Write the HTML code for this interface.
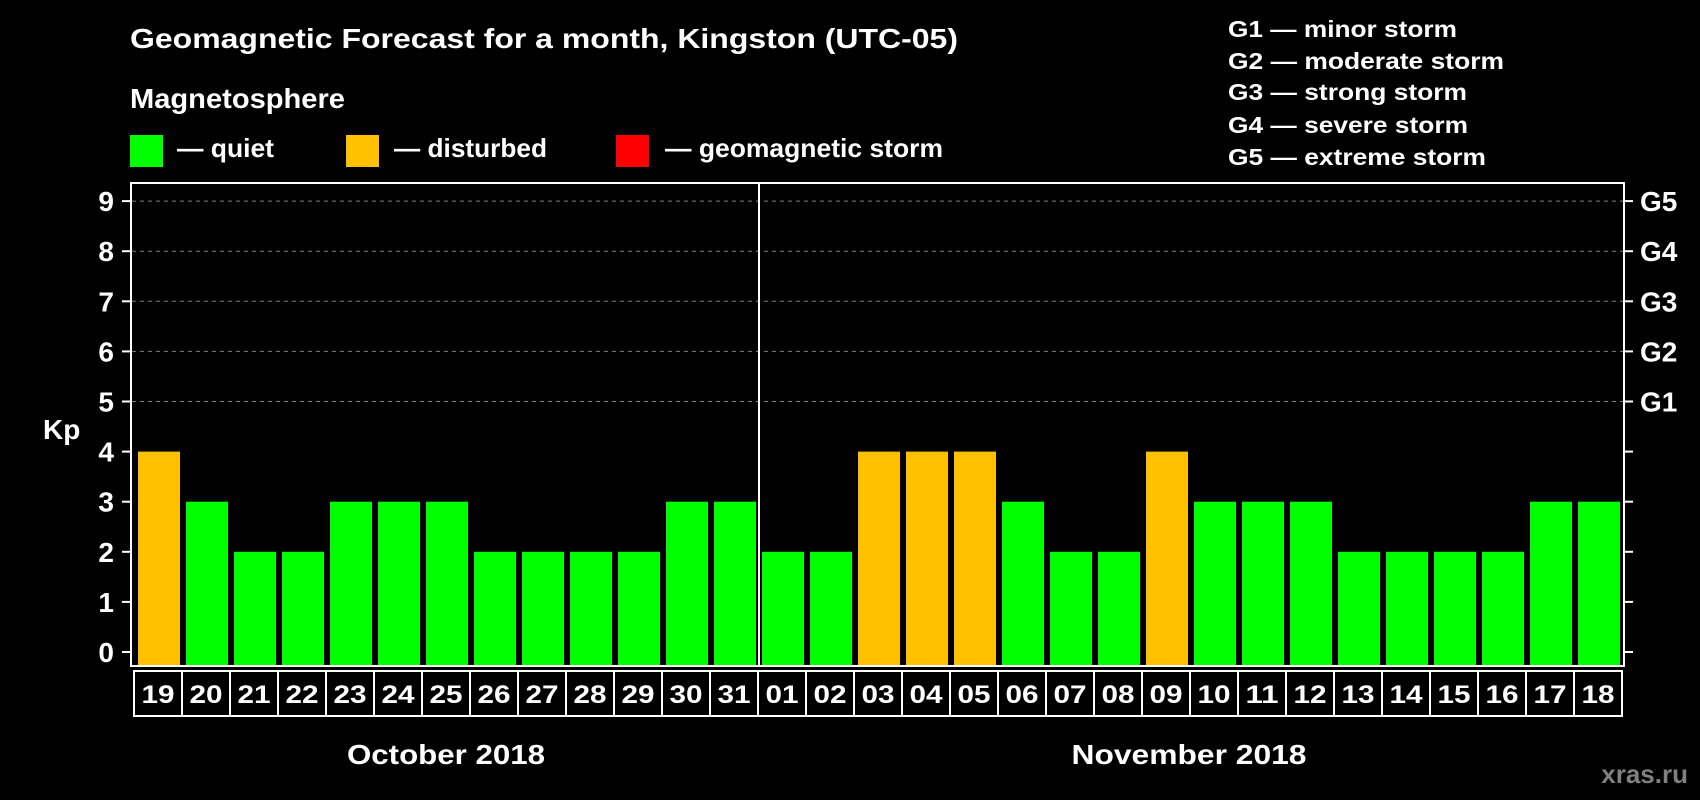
<!DOCTYPE html>
<html><head><meta charset="utf-8"><style>
html,body{margin:0;padding:0;background:#000;width:1700px;height:800px;overflow:hidden}
svg text{font-family:"Liberation Sans",Arial,sans-serif;font-weight:bold;fill:#fff}
</style></head><body>
<svg id="chart" width="1700" height="800" viewBox="0 0 1700 800" xmlns="http://www.w3.org/2000/svg">
<rect x="0" y="0" width="1700" height="800" fill="#000"/>
<text x="130" y="48" font-size="28" textLength="828" lengthAdjust="spacingAndGlyphs">Geomagnetic Forecast for a month, Kingston (UTC-05)</text>
<text x="130" y="108" font-size="28" textLength="215" lengthAdjust="spacingAndGlyphs">Magnetosphere</text>
<rect x="130" y="135" width="33" height="32" fill="#00ff00"/>
<text x="177" y="157" font-size="26" textLength="97" lengthAdjust="spacingAndGlyphs">— quiet</text>
<rect x="346" y="135" width="33" height="32" fill="#ffc000"/>
<text x="394" y="157" font-size="26" textLength="153" lengthAdjust="spacingAndGlyphs">— disturbed</text>
<rect x="616" y="135" width="33" height="32" fill="#ff0000"/>
<text x="665" y="157" font-size="26" textLength="278" lengthAdjust="spacingAndGlyphs">— geomagnetic storm</text>
<g font-size="23">
<text x="1228" y="37" textLength="229" lengthAdjust="spacingAndGlyphs">G1 — minor storm</text>
<text x="1228" y="69" textLength="276" lengthAdjust="spacingAndGlyphs">G2 — moderate storm</text>
<text x="1228" y="100" textLength="239" lengthAdjust="spacingAndGlyphs">G3 — strong storm</text>
<text x="1228" y="133" textLength="240" lengthAdjust="spacingAndGlyphs">G4 — severe storm</text>
<text x="1228" y="165" textLength="258" lengthAdjust="spacingAndGlyphs">G5 — extreme storm</text>
</g>
<text x="43" y="439" font-size="28">Kp</text>
<g id="grid"></g>
<g id="bars"></g>
<rect x="131" y="183" width="1493" height="483" fill="none" stroke="#fff" stroke-width="2"/>
<line x1="759" y1="183" x2="759" y2="666" stroke="#fff" stroke-width="2"/>
<g id="axes"></g>
<g id="dates"></g>
<text x="446" y="764" font-size="28" text-anchor="middle" textLength="198" lengthAdjust="spacingAndGlyphs">October 2018</text>
<text x="1189" y="764" font-size="28" text-anchor="middle" textLength="235" lengthAdjust="spacingAndGlyphs">November 2018</text>
<text x="1688" y="783" font-size="26" text-anchor="end" style="fill:#808080">xras.ru</text>
</svg>
<script>
const days = ["19","20","21","22","23","24","25","26","27","28","29","30","31","01","02","03","04","05","06","07","08","09","10","11","12","13","14","15","16","17","18"];
const kpValues = [4,3,2,2,3,3,3,2,2,2,2,3,3,2,2,4,4,4,3,2,2,4,3,3,3,2,2,2,2,3,3];
const yTicks = [0,1,2,3,4,5,6,7,8,9];
const gLabels = ["G1","G2","G3","G4","G5"];
const gLevels = [5,6,7,8,9];

const NS = "http://www.w3.org/2000/svg";
const yZero = 652, yUnit = 50.1;
const xStart = 134, pitch = 48;
function y(v){ return yZero - v * yUnit; }
function x(i){ return xStart + i * pitch; }
function mk(tag, attrs, parent){ const e = document.createElementNS(NS, tag); for (const k in attrs) e.setAttribute(k, attrs[k]); parent.appendChild(e); return e; }

const grid = document.getElementById('grid');
const axes = document.getElementById('axes');
yTicks.forEach(function(t){
  if (t >= 5) {
    const gl = mk('line', {x1:132, x2:1623, y1:y(t), y2:y(t), stroke:'#808080', 'stroke-width':1, 'stroke-dasharray':'4,4'}, grid);
    
    
  }
  const tl = mk('line', {x1:122, x2:131, y1:y(t), y2:y(t), stroke:'#fff', 'stroke-width':2}, axes);
  
  
  const tr = mk('line', {x1:1624, x2:1633, y1:y(t), y2:y(t), stroke:'#fff', 'stroke-width':2}, axes);
  
  
  const lb = mk('text', {x:114, y:y(t)+10, 'font-size':28, 'text-anchor':'end'}, axes);
  lb.textContent = t;
  
  
});
gLabels.forEach(function(g, i){
  const lb = mk('text', {x:1640, y:y(gLevels[i])+10, 'font-size':28}, axes);
  lb.textContent = g;
  
  
});

const bars = document.getElementById('bars');
const dates = document.getElementById('dates');
kpValues.forEach(function(v, i){
  const b = mk('rect', {x:x(i)+4, y:y(v), width:42, height:(665 - y(v)), fill:(v >= 5 ? '#ff0000' : (v >= 4 ? '#ffc000' : '#00ff00'))}, bars);
  
  
});
days.forEach(function(d, i){
  const c = mk('rect', {x:x(i), y:671, width:pitch, height:45, fill:'none', stroke:'#fff', 'stroke-width':2}, dates);
  
  
  const t = mk('text', {x:x(i)+pitch/2, y:703, 'font-size':25, 'text-anchor':'middle', textLength:33, lengthAdjust:'spacingAndGlyphs'}, dates);
  t.textContent = d;
  
  
});
</script>
</body></html>
